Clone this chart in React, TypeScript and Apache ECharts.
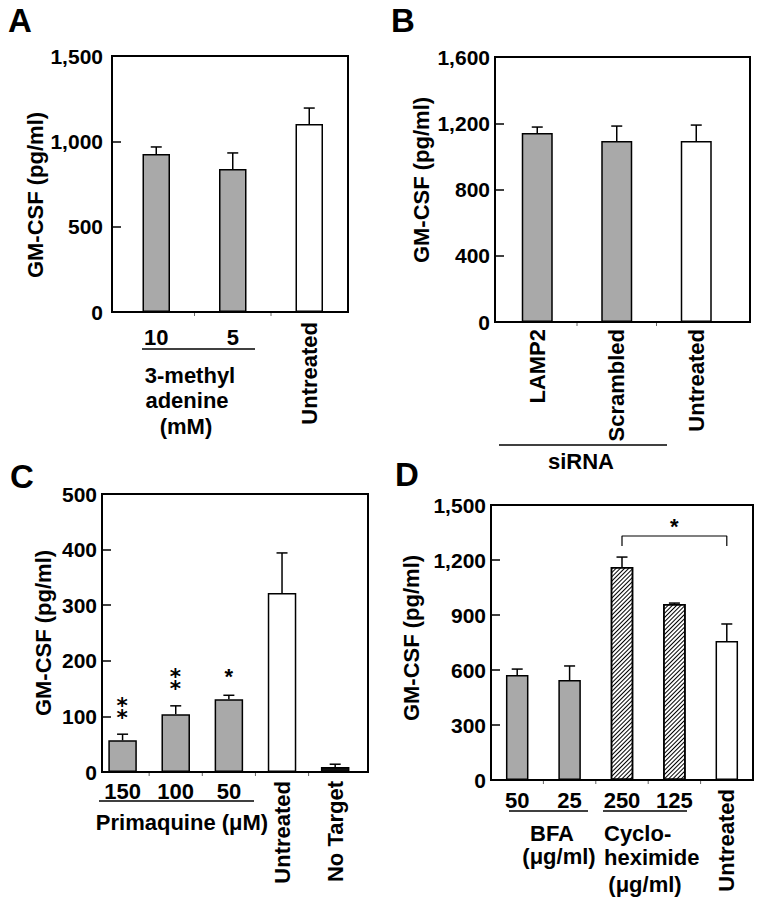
import React, { useEffect, useRef } from "react";
import * as echarts from "echarts";

const FONT = '"Liberation Sans", Arial, Helvetica, sans-serif';

// ---------- Panel A : 3-methyl adenine ----------
const categoriesA = ["10", "5", "Untreated"];
const groupsA = ["treated", "treated", "untreated"];
const valuesA = [926, 838, 1101];
const errorsA = [41, 94, 94];
const yTicksA = [0, 500, 1000, 1500];

// ---------- Panel B : siRNA ----------
const categoriesB = ["LAMP2", "Scrambled", "Untreated"];
const groupsB = ["treated", "treated", "untreated"];
const valuesB = [1141, 1093, 1093];
const errorsB = [36, 90, 96];
const yTicksB = [0, 400, 800, 1200, 1600];

// ---------- Panel C : Primaquine ----------
const categoriesC = ["150", "100", "50", "Untreated", "No Target"];
const groupsC = ["treated", "treated", "treated", "untreated", "noTarget"];
const valuesC = [57, 104, 131, 322, 9];
const errorsC = [11, 15, 7, 72, 5];
const significanceC = ["**", "**", "*", "", ""];
const yTicksC = [0, 100, 200, 300, 400, 500];

// ---------- Panel D : BFA / Cycloheximide ----------
const categoriesD = ["50", "25", "250", "125", "Untreated"];
const groupsD = ["treated", "treated", "cycloheximide", "cycloheximide", "untreated"];
const valuesD = [573, 545, 1162, 960, 758];
const errorsD = [32, 77, 54, 5, 93];
const yTicksD = [0, 300, 600, 900, 1200, 1500];
const bracketFromD = 2;
const bracketToD = 4;
const bracketTopD = 1331;
const bracketFootD = 1276;
const bracketLabelD = "*";

const Y_NAME = "GM-CSF (pg/ml)";
const LABEL_SIZE = 22;
const TICK_SIZE = 21;

const isNumeric = (s: string) => /^\d+$/.test(s);

const thousands = (v: number) =>
  v >= 1000 ? `${Math.floor(v / 1000)},${String(v % 1000).padStart(3, "0")}` : String(v);

const decalHatch = {
  symbol: "rect",
  symbolSize: 1,
  dashArrayX: [1, 0],
  dashArrayY: [1, 1.9],
  rotation: -Math.PI / 4,
  color: "#000",
  backgroundColor: "#fff",
};

const styleFor = (g: string): any => {
  const base = { borderColor: "#000", borderWidth: 1.5 };
  if (g === "treated") return { ...base, color: "#a9a9a9" };
  if (g === "untreated") return { ...base, color: "#ffffff" };
  if (g === "noTarget") return { ...base, color: "#111111" };
  return { ...base, color: "#ffffff", decal: decalHatch };
};

const panels = [
  {
    cats: categoriesA, groups: groupsA, values: valuesA, errors: errorsA, yTicks: yTicksA,
    frame: { left: 112, top: 56, width: 236, height: 256 },
    plotLeft: 118, plotWidth: 229.5, barWidth: 27.5,
    labelMargin: 9, nameGap: 66, namePad: [0, 22, 0, 0], flatMargin: 14, rotMargin: 10,
  },
  {
    cats: categoriesB, groups: groupsB, values: valuesB, errors: errorsB, yTicks: yTicksB,
    frame: { left: 495, top: 57, width: 255, height: 265 },
    plotLeft: 497.5, plotWidth: 238.5, barWidth: 31,
    labelMargin: 5, nameGap: 63, namePad: [0, 0, 0, 19], flatMargin: 10, rotMargin: 7,
  },
  {
    cats: categoriesC, groups: groupsC, values: valuesC, errors: errorsC, yTicks: yTicksC,
    frame: { left: 102, top: 494, width: 266, height: 278 },
    plotLeft: 96, plotWidth: 265.75, barWidth: 28.5,
    labelMargin: 5, nameGap: 48, namePad: [0, 0, 0, 0], flatMargin: 8, rotMargin: 9,
  },
  {
    cats: categoriesD, groups: groupsD, values: valuesD, errors: errorsD, yTicks: yTicksD,
    frame: { left: 491, top: 505, width: 262, height: 275 },
    plotLeft: 491, plotWidth: 262, barWidth: 22.5,
    labelMargin: 5, nameGap: 69, namePad: [0, 0, 0, 9], flatMargin: 9, rotMargin: 9,
  },
];

const textStyle = (size = LABEL_SIZE) => ({
  color: "#000",
  fontFamily: FONT,
  fontWeight: "bold" as const,
  fontSize: size,
});

const errorRender = (params: any, api: any) => {
  const i = api.value(0);
  const v = api.value(1);
  const e = api.value(2);
  const base = api.coord([i, v]);
  const top = api.coord([i, v + e]);
  const cap = 5.5;
  return {
    type: "group",
    children: [
      { type: "line", shape: { x1: base[0], y1: base[1], x2: top[0], y2: top[1] }, style: { stroke: "#000", lineWidth: 1.5 } },
      { type: "line", shape: { x1: top[0] - cap, y1: top[1], x2: top[0] + cap, y2: top[1] }, style: { stroke: "#000", lineWidth: 1.5 } },
    ],
  };
};

const boundaryTickRender = (params: any, api: any) => {
  const i = api.value(0);
  const c = api.coord([i, 0]);
  const bw = api.size([1, 0])[0];
  const x = c[0] - bw / 2;
  return {
    type: "line",
    shape: { x1: x, y1: c[1] + 1, x2: x, y2: c[1] + 4 },
    style: { stroke: "#666", lineWidth: 1 },
  };
};

// stacked asterisks: "⁑" (two asterisks aligned vertically) for "**"
const sigGlyph = (s: string) => (s === "**" ? "\u2051" : s);

function buildOption(): any {
  const grid: any[] = [];
  const xAxis: any[] = [];
  const yAxis: any[] = [];
  const series: any[] = [];

  panels.forEach((p, k) => {
    grid[k] = {
      left: p.plotLeft, top: p.frame.top, width: p.plotWidth, height: p.frame.height,
      show: false, containLabel: false, outerBoundsMode: "none",
    };
    grid[4 + k] = {
      ...p.frame, show: true, borderColor: "#000", borderWidth: 2,
      backgroundColor: "transparent", containLabel: false, outerBoundsMode: "none",
    };

    xAxis.push({
      type: "category", gridIndex: k, position: "bottom", data: p.cats,
      axisLine: { show: false }, axisTick: { show: false },
      axisLabel: { ...textStyle(), interval: 0, margin: p.flatMargin, formatter: (v: string) => (isNumeric(v) ? v : "") },
    });
    xAxis.push({
      type: "category", gridIndex: k, position: "bottom", offset: 0, data: p.cats,
      axisLine: { show: false }, axisTick: { show: false },
      axisLabel: { ...textStyle(), interval: 0, rotate: 90, margin: p.rotMargin, formatter: (v: string) => (isNumeric(v) ? "" : v) },
    });

    const t = p.yTicks;
    yAxis.push({
      type: "value", gridIndex: k, min: t[0], max: t[t.length - 1], interval: t[1] - t[0],
      offset: p.plotLeft - p.frame.left,
      axisLine: { show: false },
      axisTick: { show: true, inside: true, length: 9, lineStyle: { color: "#000", width: 1.5 } },
      splitLine: { show: false },
      axisLabel: { ...textStyle(TICK_SIZE), margin: p.labelMargin, formatter: (v: number) => thousands(v) },
      name: Y_NAME, nameLocation: "middle", nameRotate: 90, nameGap: p.nameGap, nameMoveOverlap: false,
      nameTextStyle: { ...textStyle(), padding: p.namePad },
    });

    series.push({
      type: "bar", xAxisIndex: 2 * k, yAxisIndex: k, barWidth: p.barWidth,
      data: p.values.map((v, i) => ({ value: v, itemStyle: styleFor(p.groups[i]) })),
      silent: true,
    });
    series.push({
      type: "custom", xAxisIndex: 2 * k, yAxisIndex: k, renderItem: errorRender,
      dimensions: ["x", "y", "err"], encode: { x: 0, y: 1 },
      data: p.values.map((v, i) => [i, v, p.errors[i]]), z: 3, silent: true,
    });
    series.push({
      type: "custom", xAxisIndex: 2 * k, yAxisIndex: k, renderItem: boundaryTickRender, clip: false,
      encode: { x: 0, y: 1 },
      data: p.cats.slice(1).map((_, i) => [i + 1, 0]), z: 3, silent: true,
    });
  });

  // significance asterisks for C
  series.push({
    type: "custom", xAxisIndex: 4, yAxisIndex: 2, z: 4, silent: true, clip: false,
    encode: { x: 0, y: 1 },
    data: categoriesC.map((_, i) => [i, valuesC[i] + errorsC[i]]),
    renderItem: (params: any, api: any) => {
      const s = significanceC[params.dataIndex];
      if (!s) return null;
      const c = api.coord([api.value(0), api.value(1)]);
      const dbl = s === "**";
      return {
        type: "text", x: c[0], y: dbl ? c[1] - 25 : c[1] - 19,
        style: {
          text: sigGlyph(s), fill: "#000",
          font: dbl ? `bold 27px "DejaVu Sans", ${FONT}` : `bold 22px ${FONT}`,
          align: "center", verticalAlign: "middle", textAlign: "center", textVerticalAlign: "middle",
        },
      };
    },
  });

  // bracket for D
  series.push({
    type: "line", xAxisIndex: 6, yAxisIndex: 3, symbol: "none", silent: true, z: 4,
    lineStyle: { color: "#000", width: 1.2 },
    data: [
      [bracketFromD, bracketFootD],
      [bracketFromD, bracketTopD],
      [bracketToD, bracketTopD],
      [bracketToD, bracketFootD],
    ],
  });
  series.push({
    type: "custom", xAxisIndex: 6, yAxisIndex: 3, z: 4, silent: true, clip: false,
    encode: { x: 0, y: 1 },
    data: [[(bracketFromD + bracketToD) / 2, bracketTopD]],
    renderItem: (params: any, api: any) => {
      const c = api.coord([api.value(0), api.value(1)]);
      return {
        type: "text", x: c[0], y: c[1] - 9,
        style: {
          text: bracketLabelD, fill: "#000", font: `bold 22px ${FONT}`,
          align: "center", verticalAlign: "middle", textAlign: "center", textVerticalAlign: "middle",
        },
      };
    },
  });

  const txt = (text: string, x: number, y: number, size = LABEL_SIZE, align = "center") => ({
    type: "text", x, y, silent: true,
    style: {
      text, fill: "#000", font: `bold ${size}px ${FONT}`,
      align, verticalAlign: "middle", textAlign: align, textVerticalAlign: "middle",
    },
  });
  const hline = (x1: number, x2: number, y: number) => ({
    type: "line", silent: true, shape: { x1, y1: y, x2, y2: y }, style: { stroke: "#000", lineWidth: 1.3 },
  });

  const graphic = [
    txt("A", 20, 20, 33),
    txt("B", 403, 20, 33),
    txt("C", 22, 476, 33),
    txt("D", 407, 474, 33),
    // A group
    hline(142, 255, 349),
    txt("3-methyl", 190, 375),
    txt("adenine", 187, 400),
    txt("(mM)", 186, 426),
    // B group
    hline(499, 667, 445),
    txt("siRNA", 581, 461),
    // C group
    hline(99, 254, 801),
    txt("Primaquine (μM)", 182, 822),
    // D groups
    hline(509, 588, 811),
    hline(603, 687, 811),
    txt("BFA", 552, 833),
    txt("(μg/ml)", 559, 856),
    txt("Cyclo-", 604, 833, LABEL_SIZE, "left"),
    txt("heximide", 604, 857, LABEL_SIZE, "left"),
    txt("(μg/ml)", 645, 884),
  ];

  return {
    animation: false,
    backgroundColor: "#fff",
    grid,
    xAxis,
    yAxis,
    series,
    graphic,
  };
}

export default function App() {
  const ref = useRef<HTMLDivElement>(null);
  useEffect(() => {
    if (!ref.current) return;
    const chart = echarts.init(ref.current, null, { renderer: "svg" });
    chart.setOption(buildOption());
    return () => chart.dispose();
  }, []);
  return (
    <div
      ref={ref}
      style={{ position: "absolute", left: 0, top: 0, width: 762, height: 903, background: "#fff" }}
    />
  );
}
